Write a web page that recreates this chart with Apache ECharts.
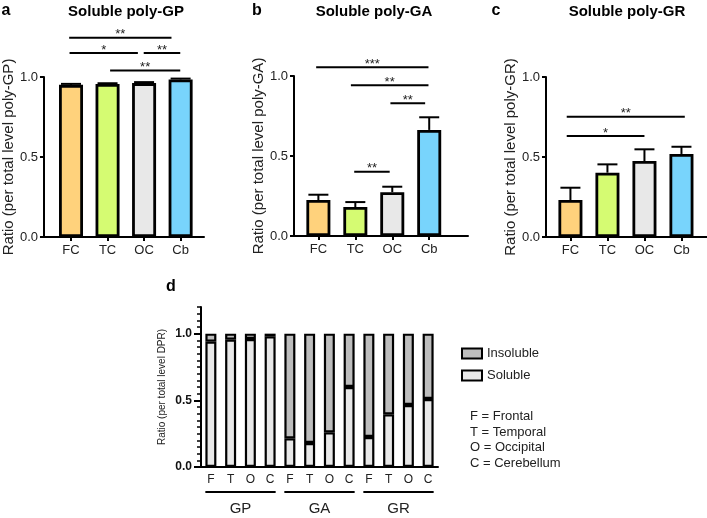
<!DOCTYPE html>
<html>
<head>
<meta charset="utf-8">
<script src="https://cdn.jsdelivr.net/npm/echarts@6.0.0/dist/echarts.min.js"></script>
<style>
  html, body { margin: 0; padding: 0; background: #fff; }
  #chart { width: 707px; height: 518px; }
</style>
</head>
<body>
<div id="chart"></div>
<script>
const regions = ["FC", "TC", "OC", "Cb"];
const regionColors = ["#FFD27C", "#D5FB72", "#E8E8E8", "#78D4FC"];

const gpMean = [0.951, 0.956, 0.962, 0.985];
const gpErr = [0.006, 0.005, 0.006, 0.005];
const gaMean = [0.225, 0.181, 0.274, 0.663];
const gaErr = [0.033, 0.031, 0.034, 0.079];
const grMean = [0.231, 0.402, 0.475, 0.519];
const grErr = [0.077, 0.052, 0.073, 0.045];

// significance bars: [from, to, height, stars]
const gpSig = [[-0.05, 2.75, 1.245, "**"], [-0.04, 1.83, 1.15, "*"], [1.99, 2.99, 1.15, "**"], [1.07, 2.99, 1.04, "**"]];
const gaSig = [[-0.06, 2.98, 1.054, "***"], [0.88, 2.98, 0.942, "**"], [1.95, 2.89, 0.83, "**"], [0.97, 1.93, 0.401, "**"]];
const grSig = [[-0.1, 3.09, 0.752, "**"], [-0.1, 2.0, 0.631, "*"]];

const dprLabels = ["F", "T", "O", "C", "F", "T", "O", "C", "F", "T", "O", "C"];
const dprGroups = ["GP", "GA", "GR"];
const soluble = [0.94, 0.955, 0.96, 0.98, 0.215, 0.18, 0.26, 0.60, 0.225, 0.395, 0.465, 0.51];
const insoluble = [0.06, 0.045, 0.04, 0.02, 0.785, 0.82, 0.74, 0.40, 0.775, 0.605, 0.535, 0.49];
const regionKey = ["F = Frontal", "T = Temporal", "O = Occipital", "C = Cerebellum"];

const font = "Liberation Sans, Arial, sans-serif";
const black = "#000";
const txt = "#222";

function xValueAxis(grid, min, max) {
  return {
    gridIndex: grid, type: "value", min: min, max: max,
    axisLine: { onZero: false, lineStyle: { color: black, width: 2 } },
    splitLine: { show: false },
    axisTick: { customValues: [0, 1, 2, 3], length: 4, lineStyle: { color: black, width: 2 } },
    axisLabel: { customValues: [0, 1, 2, 3], formatter: v => regions[Math.round(v)], fontSize: 13, margin: 7, color: txt }
  };
}
function yRatioAxis(grid, name) {
  return {
    gridIndex: grid, type: "value", min: 0, max: 1, interval: 0.5,
    name: name, nameLocation: "middle", nameGap: 26,
    nameTextStyle: { fontSize: 15, color: txt },
    axisLine: { show: true, onZero: false, lineStyle: { color: black, width: 2 } },
    splitLine: { show: false },
    axisTick: { show: true, length: 4, lineStyle: { color: black, width: 2 } },
    axisLabel: { formatter: v => v.toFixed(1), fontSize: 13, margin: 6, color: txt }
  };
}

function errorSeries(axis, mean, err) {
  return {
    type: "custom", xAxisIndex: axis, yAxisIndex: axis, z: 3,
    data: mean.map((v, i) => [i, v, err[i]]),
    encode: { x: 0, y: 1 },
    renderItem: (params, api) => {
      const x = api.value(0), v = api.value(1), e = api.value(2);
      const b = api.coord([x, v]);
      const t = api.coord([x, v + e]);
      return {
        type: "group", children: [
          { type: "line", shape: { x1: b[0], y1: b[1], x2: t[0], y2: t[1] }, style: { stroke: black, lineWidth: 2 } },
          { type: "line", shape: { x1: t[0] - 10, y1: t[1], x2: t[0] + 10, y2: t[1] }, style: { stroke: black, lineWidth: 2 } }
        ]
      };
    }
  };
}
function sigSeries(axis, sig) {
  return {
    type: "custom", xAxisIndex: axis, yAxisIndex: axis, z: 3,
    data: sig.map(s => [s[0], s[1], s[2]]),
    encode: { x: [0, 1], y: 2 },
    renderItem: (params, api) => {
      const p1 = api.coord([api.value(0), api.value(2)]);
      const p2 = api.coord([api.value(1), api.value(2)]);
      return {
        type: "group", children: [
          { type: "line", shape: { x1: p1[0], y1: p1[1], x2: p2[0], y2: p2[1] }, style: { stroke: black, lineWidth: 2 } },
          { type: "text", style: { text: sig[params.dataIndex][3], x: (p1[0] + p2[0]) / 2, y: p1[1] - 3,
              textAlign: "center", textVerticalAlign: "middle", align: "center", verticalAlign: "middle",
              fontSize: 13, fontFamily: font, fill: txt } }
        ]
      };
    }
  };
}
function barSeries(axis, mean) {
  return {
    type: "bar", xAxisIndex: axis, yAxisIndex: axis, barWidth: 24,
    data: mean.map((v, i) => ({ value: [i, v], itemStyle: { color: regionColors[i] } })),
    itemStyle: { borderColor: black, borderWidth: 2.8 }
  };
}

function label(text, x, y, size, bold, align) {
  return {
    type: "text", x: x, y: y,
    style: { text: text, fontSize: size, fontWeight: bold ? "bold" : "normal", fontFamily: font, fill: bold ? "#000" : txt,
      textAlign: align || "center", align: align || "center", textVerticalAlign: "middle", verticalAlign: "middle" }
  };
}

const chart = echarts.init(document.getElementById("chart"));
chart.setOption({
  animation: false,
  textStyle: { fontFamily: font },
  grid: [
    { left: 42, top: 77, width: 162, height: 160 },
    { left: 294, top: 76, width: 174, height: 160 },
    { left: 546, top: 77, width: 161, height: 160 },
    { left: 201, top: 307, width: 237, height: 160 }
  ],
  xAxis: [
    xValueAxis(0, -0.74, 3.64),
    xValueAxis(1, -0.66, 4.05),
    xValueAxis(2, -0.66, 3.69),
    {
      gridIndex: 3, type: "category", data: dprLabels, boundaryGap: true,
      axisLine: { onZero: false, lineStyle: { color: black, width: 2 } },
      axisTick: { alignWithLabel: true, length: 4, lineStyle: { color: black, width: 2 } },
      axisLabel: { fontSize: 12, margin: 7, color: txt }
    }
  ],
  yAxis: [
    yRatioAxis(0, "Ratio (per total level poly-GP)"),
    yRatioAxis(1, "Ratio (per total level poly-GA)"),
    yRatioAxis(2, "Ratio (per total level poly-GR)"),
    {
      gridIndex: 3, type: "value", min: 0, max: 1.2, interval: 0.05,
      name: "Ratio (per total level DPR)", nameLocation: "middle", nameGap: 34,
      nameTextStyle: { fontSize: 10, color: txt },
      axisLine: { show: true, onZero: false, lineStyle: { color: black, width: 2 } },
      splitLine: { show: false },
      axisTick: { show: true, length: 4, lineStyle: { color: black, width: 1.5 } },
      axisLabel: { customValues: [0, 0.5, 1], formatter: v => v.toFixed(1), fontSize: 12, fontWeight: "bold", margin: 9, color: "#111" }
    },
    {
      gridIndex: 3, type: "value", min: 0, max: 1.2, interval: 0.5, position: "left",
      axisLine: { show: false },
      splitLine: { show: false },
      axisTick: { show: true, customValues: [0, 0.5, 1], length: 7, lineStyle: { color: black, width: 2 } },
      axisLabel: { show: false }
    }
  ],
  legend: {
    data: ["Insoluble", "Soluble"], orient: "vertical", left: 461, top: 347, padding: 0,
    icon: "rect", itemWidth: 20, itemHeight: 10, itemGap: 9,
    itemStyle: { borderColor: black, borderWidth: 2 },
    textStyle: { fontSize: 13, color: txt, lineHeight: 13 }
  },
  graphic: [
    label("a", 6, 11, 16, true),
    label("Soluble poly-GP", 126, 12, 15, true),
    label("b", 257, 11, 16, true),
    label("Soluble poly-GA", 374, 12, 15, true),
    label("c", 496, 11, 16, true),
    label("Soluble poly-GR", 627, 12, 15, true),
    label("d", 171, 287, 16, true)
  ].concat(regionKey.map((t, i) => label(t, 470, 416.7 + i * 15.5, 13, false, "left"))),
  series: [
    barSeries(0, gpMean), errorSeries(0, gpMean, gpErr), sigSeries(0, gpSig),
    barSeries(1, gaMean), errorSeries(1, gaMean, gaErr), sigSeries(1, gaSig),
    barSeries(2, grMean), errorSeries(2, grMean, grErr), sigSeries(2, grSig),
    {
      name: "Soluble", type: "bar", stack: "dpr", xAxisIndex: 3, yAxisIndex: 3, barWidth: 11,
      data: soluble, itemStyle: { color: "#E8E8E8", borderColor: black, borderWidth: 2.2 }
    },
    {
      name: "Insoluble", type: "bar", stack: "dpr", xAxisIndex: 3, yAxisIndex: 3, barWidth: 11,
      data: insoluble, itemStyle: { color: "#BDBDBD", borderColor: black, borderWidth: 2.2 }
    },
    {
      type: "custom", xAxisIndex: 3, yAxisIndex: 3,
      data: dprGroups.map((g, i) => [i * 4, i * 4 + 3, 0]),
      encode: { x: [0, 1], y: 2 },
      renderItem: (params, api) => {
        const a = api.coord([api.value(0), 0]);
        const b = api.coord([api.value(1), 0]);
        const half = api.size([1, 0])[0] * 0.28;
        return {
          type: "group", children: [
            { type: "line", shape: { x1: a[0] - half, y1: a[1] + 25, x2: b[0] + half, y2: a[1] + 25 }, style: { stroke: black, lineWidth: 2 } },
            { type: "text", style: { text: dprGroups[params.dataIndex], x: (a[0] + b[0]) / 2, y: a[1] + 42,
                textAlign: "center", textVerticalAlign: "middle", align: "center", verticalAlign: "middle",
                fontSize: 15, fontFamily: font, fill: txt } }
          ]
        };
      }
    }
  ]
});
</script>
</body>
</html>
